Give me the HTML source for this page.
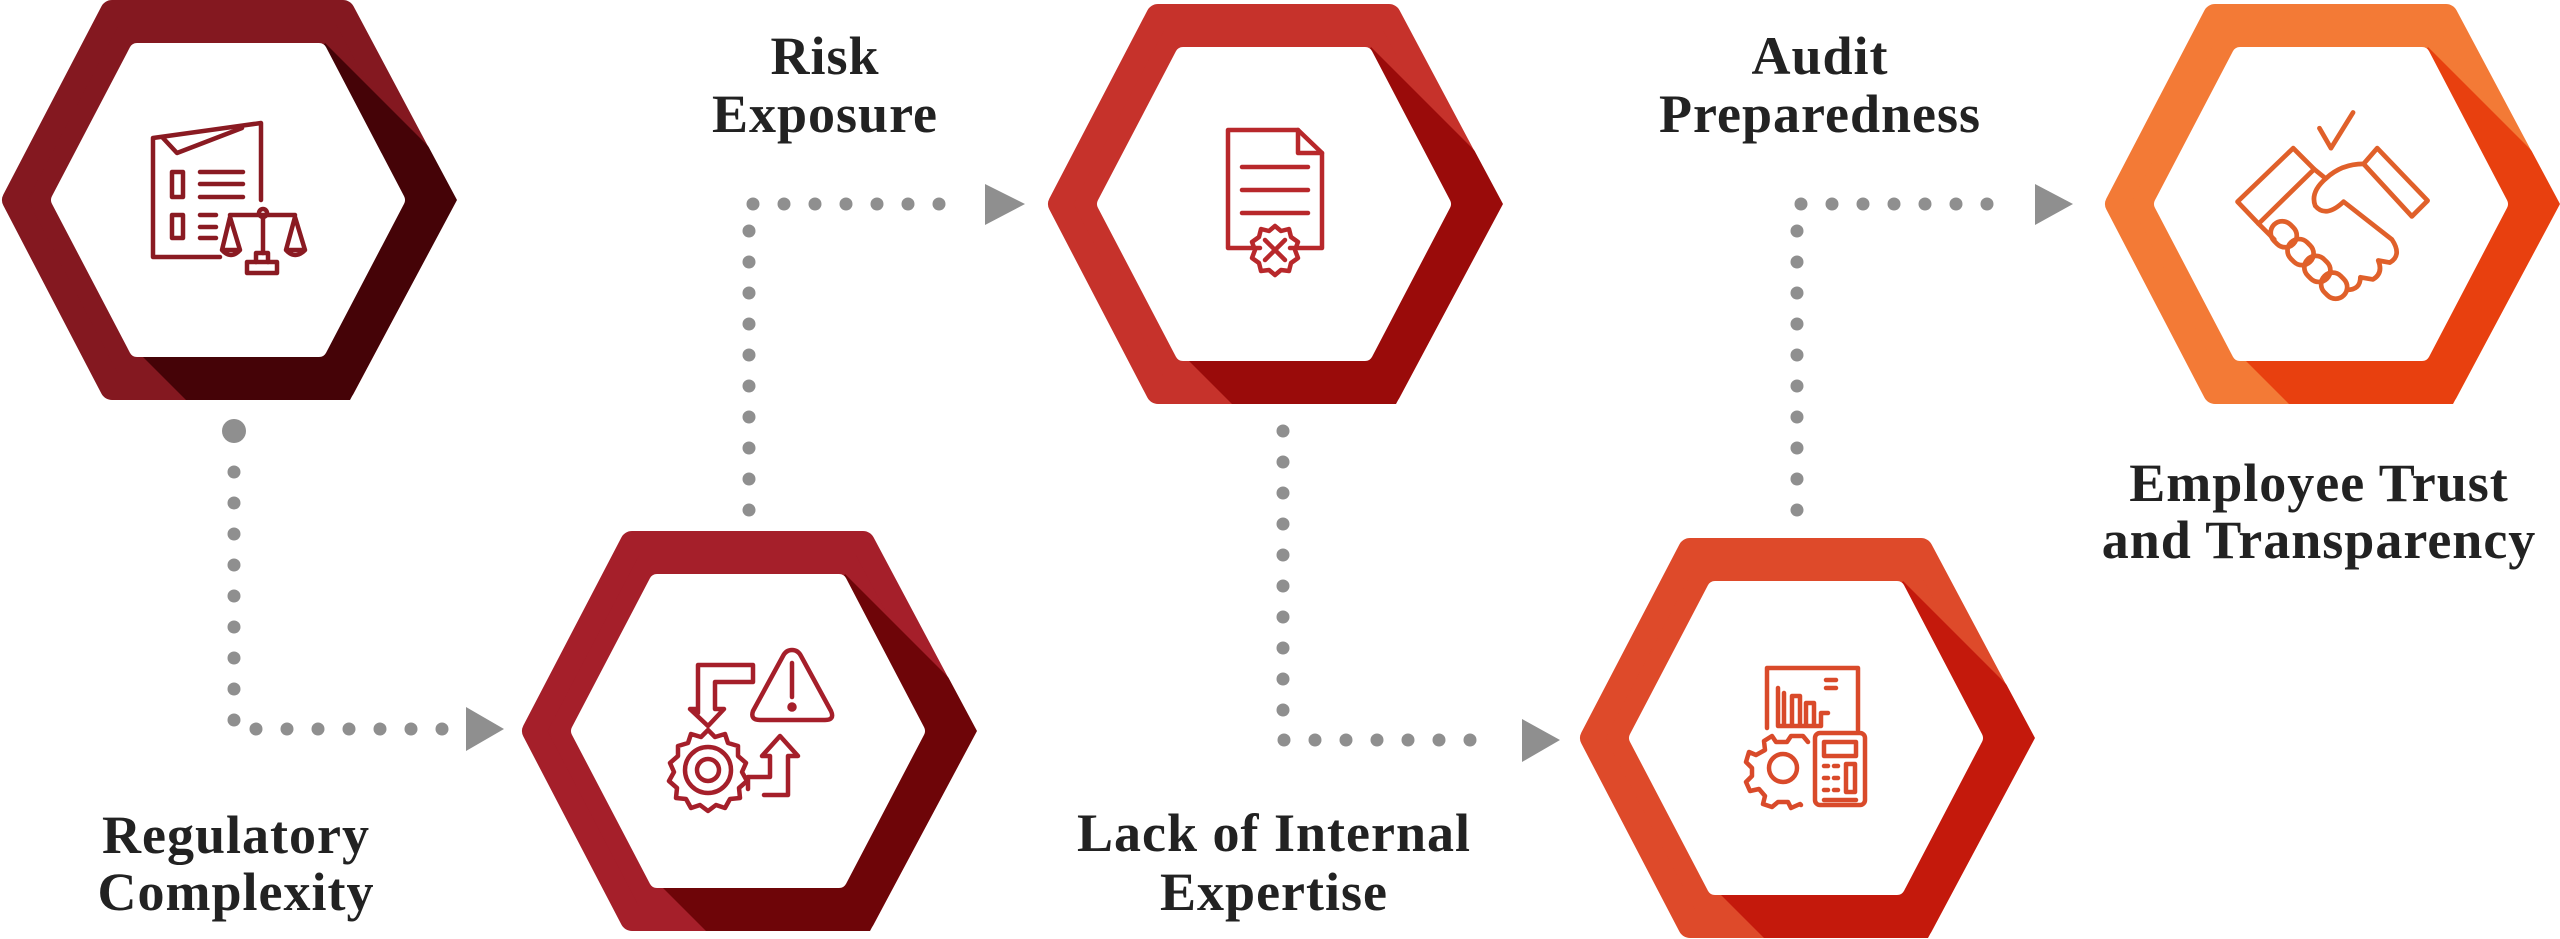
<!DOCTYPE html>
<html><head><meta charset="utf-8"><style>
html,body{margin:0;padding:0;background:#fff;}
svg{display:block;}
text{font-family:"Liberation Serif",serif;font-weight:bold;fill:#222;font-size:54px;letter-spacing:1px;text-anchor:middle;}
</style></head><body>
<svg width="2560" height="939" viewBox="0 0 2560 939" xmlns="http://www.w3.org/2000/svg">
<defs>
<clipPath id="hc"><polygon points="105,0 350,0 457,200 350,400 105,400 0,200"/></clipPath>
</defs>

<!-- connectors -->
<g fill="#8f8f8f">
<circle cx="234" cy="431" r="12"/>
</g>
<g stroke="#8f8f8f" stroke-width="13" stroke-linecap="round" stroke-dasharray="0 31" fill="none">
<path d="M234 472 V729 H445"/>
<path d="M749 510 V204 H962"/>
<path d="M1283 431 V740 H1497"/>
<path d="M1797 510 V204 H2012"/>
</g>
<g fill="#8f8f8f">
<polygon points="466,707 504,729 466,751"/>
<polygon points="985,184 1025,204 985,225"/>
<polygon points="1522,719 1560,740 1522,762"/>
<polygon points="2035,184 2073,204 2035,225"/>
</g>

<!-- hexagons -->
<g transform="translate(0,0)">
<polygon points="112,12 343,12 443,200 343,388 112,388 14,200" fill="#841820" stroke="#841820" stroke-width="24" stroke-linejoin="round"/>
<polygon clip-path="url(#hc)" points="325,43 470,188 470,420 206,420 143,357" fill="#450307"/>
<polygon points="137,51 319,51 397,200 319,349 137,349 59,200" fill="#fff" stroke="#fff" stroke-width="16" stroke-linejoin="round"/>
</g>
<g transform="translate(520,531)">
<polygon points="112,12 343,12 443,200 343,388 112,388 14,200" fill="#a51f2a" stroke="#a51f2a" stroke-width="24" stroke-linejoin="round"/>
<polygon clip-path="url(#hc)" points="325,43 470,188 470,420 206,420 143,357" fill="#6e0508"/>
<polygon points="137,51 319,51 397,200 319,349 137,349 59,200" fill="#fff" stroke="#fff" stroke-width="16" stroke-linejoin="round"/>
</g>
<g transform="translate(1046,4)">
<polygon points="112,12 343,12 443,200 343,388 112,388 14,200" fill="#c6322b" stroke="#c6322b" stroke-width="24" stroke-linejoin="round"/>
<polygon clip-path="url(#hc)" points="325,43 470,188 470,420 206,420 143,357" fill="#9a0b0a"/>
<polygon points="137,51 319,51 397,200 319,349 137,349 59,200" fill="#fff" stroke="#fff" stroke-width="16" stroke-linejoin="round"/>
</g>
<g transform="translate(1578,538)">
<polygon points="112,12 343,12 443,200 343,388 112,388 14,200" fill="#de4a2a" stroke="#de4a2a" stroke-width="24" stroke-linejoin="round"/>
<polygon clip-path="url(#hc)" points="325,43 470,188 470,420 206,420 143,357" fill="#c4190c"/>
<polygon points="137,51 319,51 397,200 319,349 137,349 59,200" fill="#fff" stroke="#fff" stroke-width="16" stroke-linejoin="round"/>
</g>
<g transform="translate(2103,4)">
<polygon points="112,12 343,12 443,200 343,388 112,388 14,200" fill="#f37a36" stroke="#f37a36" stroke-width="24" stroke-linejoin="round"/>
<polygon clip-path="url(#hc)" points="325,43 470,188 470,420 206,420 143,357" fill="#e8400f"/>
<polygon points="137,51 319,51 397,200 319,349 137,349 59,200" fill="#fff" stroke="#fff" stroke-width="16" stroke-linejoin="round"/>
</g>

<!-- icons -->
<g transform="translate(228,200)" fill="none" stroke="#8a1a22" stroke-width="4.5" stroke-linecap="round" stroke-linejoin="round">
<path d="M-8,57 H-75 V-62 L33,-77 V0"/>
<path d="M-65,-62 L-51,-47 L14,-72"/>
<rect x="-56" y="-28" width="11" height="25"/>
<path d="M-28,-28 H15 M-28,-16 H15 M-28,-3 H15"/>
<rect x="-56" y="15" width="11" height="23"/>
<path d="M-28,15 H-12 M-28,27 H-12 M-28,38 H-12"/>
<path d="M2,15 H67 M35,17 V53"/>
<circle cx="35" cy="13" r="4"/>
<rect x="19" y="62" width="30" height="11"/>
<path d="M28,62 V53 H40 V62"/>
<path d="M2,17 L-6,50 H12 Z M-6,50 Q3,60 12,50"/>
<path d="M67,17 L58,50 H77 Z M58,50 Q67,60 77,50"/>
</g>

<g transform="translate(748,731)" fill="none" stroke="#a51f2a" stroke-width="4.5" stroke-linecap="round" stroke-linejoin="round">
<path d="M-50,-18 V-66 H5 V-49 H-33 V-22 H-24 L-40,-5 L-58,-22 H-50"/>
<path d="M44,-81 Q38,-81 35,-75 L5,-20 Q2,-11 12,-11 H77 Q87,-11 83,-20 L53,-75 Q50,-81 44,-81 Z"/>
<path d="M44,-68 V-34"/>
<circle cx="44" cy="-24" r="2.5" fill="#a51f2a"/>
<path d="M-40,-1 L-33,6 L-23,3 L-20,12 L-10,15 L-10,25 L-2,32 L-6,41 L-1,50 L-9,57 L-8,67 L-18,68 L-23,77 L-32,74 L-40,80 L-48,74 L-57,77 L-62,68 L-72,67 L-71,57 L-79,50 L-74,41 L-78,32 L-70,25 L-70,15 L-60,12 L-57,3 L-47,6 Z"/>
<circle cx="-40" cy="39" r="23"/>
<circle cx="-40" cy="39" r="11"/>
<path d="M0,58 V46 H22 V25 H14 L32,5 L50,25 H40 V64 H16"/>
</g>

<g transform="translate(1274,204)" fill="none" stroke="#b8282b" stroke-width="4.5" stroke-linecap="round" stroke-linejoin="round">
<path d="M-14,44 H-46 V-74 H24 L48,-51 V44 H16"/>
<path d="M24,-74 V-51 H48"/>
<path d="M-32,-37 H34 M-32,-14 H34 M-32,9 H34"/>
<path d="M1,22 L7,27 L15,25 L17,33 L24,38 L21,46 L24,54 L17,59 L15,67 L7,66 L1,71 L-5,66 L-13,67 L-15,59 L-22,54 L-19,46 L-22,38 L-15,33 L-13,25 L-5,27 Z"/>
<path d="M-9,36 L11,56 M11,36 L-9,56"/>
</g>

<g transform="translate(1806,738)" fill="none" stroke="#d94a2a" stroke-width="4.5" stroke-linecap="round" stroke-linejoin="round">
<path d="M-39,-10 V-70 H52 V-8"/>
<path d="M-28,-12 V-50 M-22,-45 V-12 H-14 V-42 H-6 V-12 M0,-12 V-35 H8 V-12 M-28,-12 H15 M15,-12 V-25 H22 M20,-58 H30 M20,-50 H30"/>
<rect x="9" y="-5" width="50" height="72" rx="5"/>
<rect x="18" y="4" width="32" height="14"/>
<path d="M18,28 H22 M28,28 H32 M18,40 H22 M28,40 H32 M18,52 H22 M28,52 H32 M18,62 H50"/>
<rect x="40" y="26" width="9" height="28"/>
<path d="M2,4 L-3,-2 L-15,-2 L-19,4 L-30,4 L-34,-2 L-42,3 L-41,12 L-50,17 L-57,14 L-60,24 L-54,30 L-54,38 L-60,44 L-56,53 L-47,51 L-41,58 L-43,66 L-34,69 L-28,64 L-18,64 L-15,70 L-6,66 L-5,67"/>
<circle cx="-23" cy="30" r="14"/>
</g>

<g transform="translate(2331,208) scale(1.05)" fill="none" stroke="#e0602a" stroke-width="4.5" stroke-linecap="round" stroke-linejoin="round">
<path d="M-11,-76 L0,-57 L21,-91"/>
<polygon points="-89,-6 -36,-57 -16,-37 -69,15"/>
<polygon points="31,-42 44,-57 92,-7 77,8"/>
<path d="M-16,-37 L-5,-28 Q10,-42 31,-42"/>
<path d="M-5,-28 Q-20,-15 -15,-2 Q-5,10 12,-6 L58,30 Q68,45 56,52 L45,50 Q50,62 40,68 L28,66 Q28,78 15,78"/>
<path d="M-69,15 L-54,30"/>
<rect x="-58" y="14" width="26" height="22" rx="11" transform="rotate(45 -45 25)"/>
<rect x="-42" y="31" width="26" height="22" rx="11" transform="rotate(45 -29 42)"/>
<rect x="-26" y="47" width="26" height="22" rx="11" transform="rotate(45 -13 58)"/>
<rect x="-10" y="63" width="26" height="22" rx="11" transform="rotate(45 3 74)"/>
</g>

<!-- labels -->
<text x="825" y="74">Risk</text>
<text x="825" y="132">Exposure</text>
<text x="1820" y="74">Audit</text>
<text x="1820" y="132">Preparedness</text>
<text x="2319" y="501">Employee Trust</text>
<text x="2319" y="558">and Transparency</text>
<text x="236" y="853">Regulatory</text>
<text x="236" y="910">Complexity</text>
<text x="1274" y="851">Lack of Internal</text>
<text x="1274" y="910">Expertise</text>
</svg>
</body></html>
